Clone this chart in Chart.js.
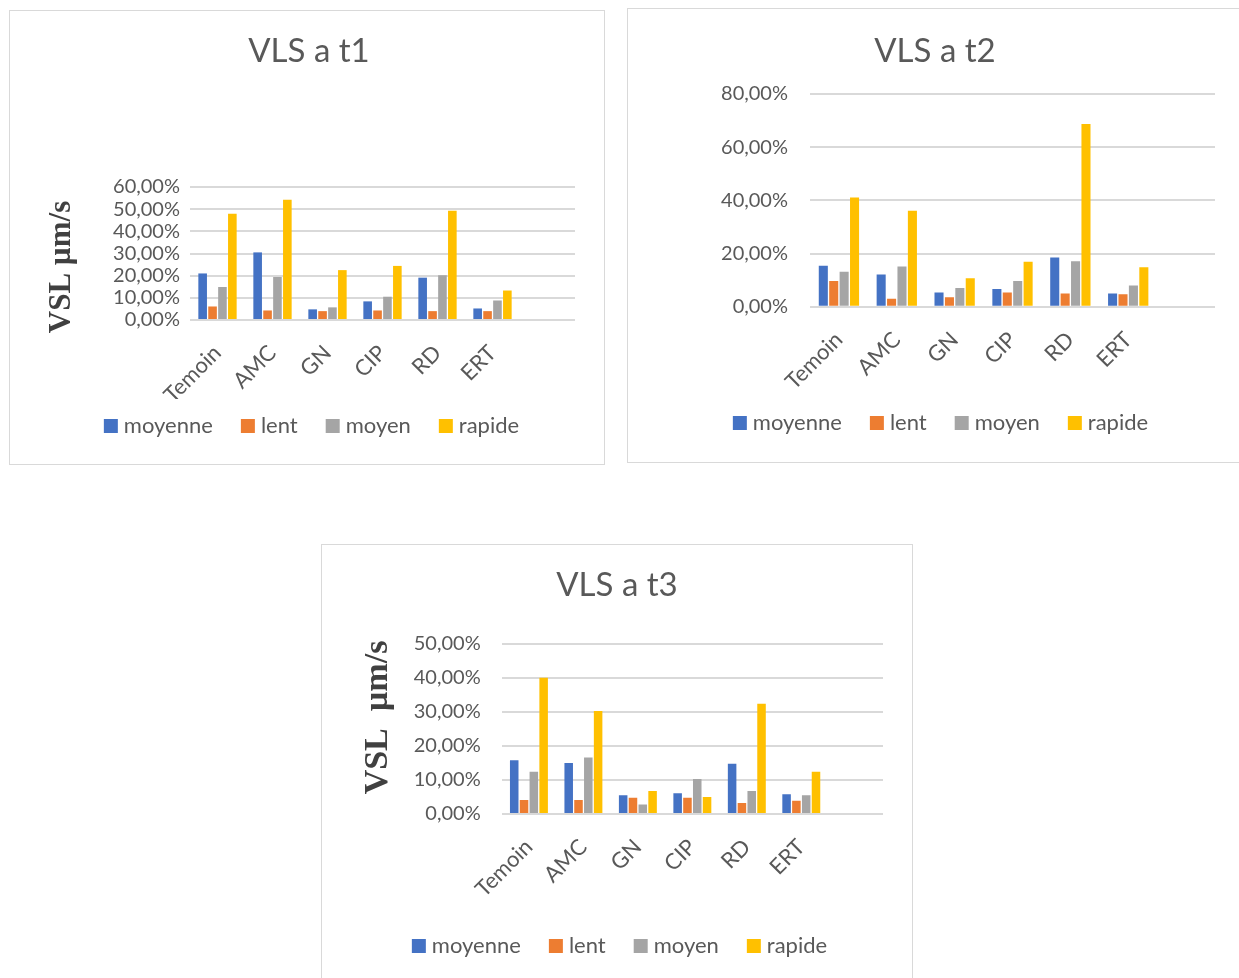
<!DOCTYPE html>
<html>
<head>
<meta charset="utf-8">
<script src="https://cdn.jsdelivr.net/npm/chart.js@4.4.1/dist/chart.umd.min.js"></script>
<style>
  body { margin: 0; background: #fff; width: 1239px; height: 978px; overflow: hidden; position: relative; }
  .panel { position: absolute; border: 1px solid #d9d9d9; box-sizing: border-box; background: #fff; }
  .panel canvas { position: absolute; left: 0; top: 0; }
</style>
</head>
<body>
<div class="panel" style="left:9px;top:10px;width:596px;height:455px"><canvas id="c1" width="594" height="453"></canvas></div>
<div class="panel" style="left:627px;top:8px;width:614px;height:455px"><canvas id="c2" width="612" height="453"></canvas></div>
<div class="panel" style="left:321px;top:544px;width:592px;height:440px"><canvas id="c3" width="590" height="438"></canvas></div>
<script>
// Groups on the category axis
const categories = ['Temoin', 'AMC', 'GN', 'CIP', 'RD', 'ERT'];
const seriesNames = ['moyenne', 'lent', 'moyen', 'rapide'];
const seriesColors = ['#4472C4', '#ED7D31', '#A5A5A5', '#FFC000'];

// VLS at t1 (%)
const t1Moyenne = [21.0, 30.5, 4.8, 8.4, 19.1, 5.2];
const t1Lent    = [6.1, 4.3, 4.0, 4.3, 4.0, 4.0];
const t1Moyen   = [14.9, 19.4, 5.7, 10.5, 20.2, 8.8];
const t1Rapide  = [47.9, 54.3, 22.5, 24.4, 49.3, 13.3];

// VLS at t2 (%)
const t2Moyenne = [15.4, 12.1, 5.3, 6.7, 18.5, 5.0];
const t2Lent    = [9.7, 3.0, 3.6, 5.3, 5.0, 4.7];
const t2Moyen   = [13.1, 15.1, 7.0, 9.7, 17.1, 8.0];
const t2Rapide  = [41.1, 36.1, 10.7, 16.9, 68.7, 14.8];

// VLS at t3 (%)
const t3Moyenne = [15.8, 15.0, 5.5, 6.1, 14.8, 5.8];
const t3Lent    = [4.1, 4.1, 4.8, 4.8, 3.2, 3.9];
const t3Moyen   = [12.4, 16.6, 2.8, 10.3, 6.8, 5.5];
const t3Rapide  = [40.1, 30.3, 6.8, 5.0, 32.4, 12.4];

// Value axis ranges
const t1Axis = { max: 60, step: 10 };
const t2Axis = { max: 80, step: 20 };
const t3Axis = { max: 50, step: 10 };

const TEXT = '#595959';
const GRID = '#d9d9d9';
const LEGEND_FONT = 22;
const LEGEND_PAD = 33;

// Rotated side caption drawn beside the value axis
const sideCaption = {
  id: 'sideCaption',
  afterDraw(chart, args, opts) {
    if (!opts || !opts.text) return;
    const ctx = chart.ctx;
    ctx.save();
    ctx.translate(opts.x, opts.y);
    ctx.rotate(-Math.PI / 2);
    ctx.font = opts.font;
    ctx.fillStyle = opts.color;
    ctx.textAlign = 'center';
    ctx.textBaseline = 'middle';
    ctx.fillText(opts.text, 0, 0);
    ctx.restore();
  }
};

// Moves the legend row to a given vertical centre (and nudges it sideways) after layout
const legendRow = {
  id: 'legendRow',
  afterLayout(chart, args, opts) {
    const L = chart.legend;
    if (!L || opts.centerY == null) return;
    const current = L.top + LEGEND_PAD + LEGEND_FONT / 2;
    const dy = opts.centerY - current;
    L.top += dy;
    L.bottom += dy;
    const dx = opts.dx || 0;
    L.left += dx;
    L.right += dx;
  }
};

function pct(v) {
  return v.toFixed(2).replace('.', ',') + '%';
}

function makeChart(id, title, values, axis, g) {
  // An empty trailing slot keeps the spare space at the right end of the axis
  const labels = categories.concat(['']);
  const datasets = seriesNames.map((name, i) => ({
    label: name,
    data: values[i],
    backgroundColor: seriesColors[i],
    borderWidth: 0,
    categoryPercentage: 0.72,
    barPercentage: 0.87
  }));
  return new Chart(document.getElementById(id), {
    type: 'bar',
    data: { labels, datasets },
    plugins: [sideCaption, legendRow],
    options: {
      responsive: false,
      animation: false,
      layout: { padding: { left: g.padL, right: g.padR, top: 0, bottom: 0 } },
      plugins: {
        title: {
          display: true,
          text: title,
          color: TEXT,
          font: { family: 'Lato', size: 33, weight: 'normal', lineHeight: 1.2 },
          padding: { top: g.titleTop, bottom: g.titleBottom }
        },
        legend: {
          position: 'bottom',
          labels: {
            color: TEXT,
            font: { family: 'Lato', size: LEGEND_FONT },
            usePointStyle: true,
            pointStyle: 'rect',
            boxWidth: 4,
            boxHeight: 14,
            padding: LEGEND_PAD
          }
        },
        legendRow: { centerY: g.legendY, dx: g.legendDx },
        tooltip: { enabled: false },
        sideCaption: g.caption || {}
      },
      scales: {
        x: {
          grid: { display: false },
          border: { display: false },
          ticks: {
            color: TEXT,
            font: { family: 'Lato', size: 22 },
            minRotation: 45,
            maxRotation: 45,
            autoSkip: false,
            padding: 12
          },
          afterFit(scale) { scale.height = g.xHeight; }
        },
        y: {
          min: 0,
          max: axis.max,
          grid: { color: GRID, lineWidth: 2, drawTicks: false },
          border: { display: false },
          ticks: {
            stepSize: axis.step,
            autoSkip: false,
            color: TEXT,
            font: { family: 'Lato', size: 20 },
            padding: g.tickPad,
            callback: (v) => pct(v)
          },
          afterFit(scale) { scale.width = g.yWidth; }
        }
      }
    }
  });
}

// Title block: 33px * 1.2 = 39.6 tall; legend block: 22 + 33 + 10 = 65 tall
makeChart('c1', 'VLS a t1', [t1Moyenne, t1Lent, t1Moyen, t1Rapide], t1Axis, {
  padL: 33, padR: 29, titleTop: 21, titleBottom: 115.4,
  xHeight: 79, yWidth: 147, tickPad: 10, legendY: 415, legendDx: 5,
  caption: { text: 'VSL µm/s', x: 52, y: 256, font: 'bold 31px "Liberation Serif"', color: '#404040' }
});

makeChart('c2', 'VLS a t2', [t2Moyenne, t2Lent, t2Moyen, t2Rapide], t2Axis, {
  padL: 27, padR: 25, titleTop: 23, titleBottom: 22.4,
  xHeight: 90.3, yWidth: 155, tickPad: 22, legendY: 414, legendDx: 8
});

makeChart('c3', 'VLS a t3', [t3Moyenne, t3Lent, t3Moyen, t3Rapide], t3Axis, {
  padL: 29, padR: 29, titleTop: 21, titleBottom: 38.4,
  xHeight: 104, yWidth: 150.7, tickPad: 21, legendY: 401, legendDx: 5,
  caption: { text: 'VSL  µm/s', x: 56, y: 172.5, font: 'bold 34px "Liberation Serif"', color: '#404040' }
});
</script>
</body>
</html>
